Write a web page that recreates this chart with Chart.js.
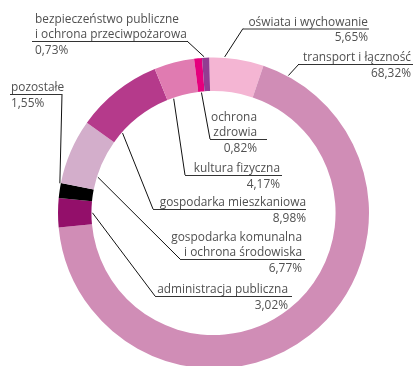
<!DOCTYPE html>
<html>
<head>
<meta charset="utf-8">
<script src="https://cdn.jsdelivr.net/npm/chart.js@4.4.1/dist/chart.umd.min.js"></script>
<style>
  html, body { margin: 0; padding: 0; background: #fff; overflow: hidden; }
  #wrap { width: 413px; height: 366px; overflow: hidden; }
</style>
</head>
<body>
<div id="wrap"><canvas id="wydatki" width="413" height="380"></canvas></div>
<script>
// struktura wydatków – udział poszczególnych działów (%)
const categories = [
    'oświata i wychowanie',
    'transport i łączność',
    'administracja publiczna',
    'pozostałe',
    'gospodarka komunalna i ochrona środowiska',
    'gospodarka mieszkaniowa',
    'kultura fizyczna',
    'ochrona zdrowia',
    'bezpieczeństwo publiczne i ochrona przeciwpożarowa',
];
const shares = [5.65, 68.32, 3.02, 1.55, 6.77, 8.98, 4.17, 0.82, 0.73];
const colors = ['#f4b5d3', '#d08db6', '#930f6a', '#000000', '#d3aecb', '#b53a8b', '#e07bb1', '#e5007d', '#913d92'];

// rozmieszczenie podpisów: linie tekstu, wyrównanie, podkreślenie, punkt na pierścieniu
const callouts = [
    { lines: ['oświata i wychowanie'], align: 'right', tx: 368, uy: 28.5, ux: [243, 369], ring: 'outer', at: 0.28 },
    { lines: ['transport i łączność'], align: 'right', tx: 411, uy: 64, ux: [299, 413], ring: 'outer', at: 0.04 },
    { lines: ['administracja publiczna'], align: 'right', tx: 288, uy: 296, ux: [155, 292], ring: 'inner', at: 0.5 },
    { lines: ['pozostałe'], align: 'left', tx: 11, uy: 94, ux: [10, 62], ring: 'outer', at: 0.97 },
    { lines: ['gospodarka komunalna', 'i ochrona środowiska'], align: 'right', tx: 302, uy: 259, ux: [180, 305], ring: 'inner', at: 0.25 },
    { lines: ['gospodarka mieszkaniowa'], align: 'right', tx: 306, uy: 209, ux: [153, 306], ring: 'inner', at: 0.18 },
    { lines: ['kultura fizyczna'], align: 'right', tx: 280, uy: 175, ux: [185, 282], ring: 'inner', at: 0.2 },
    { lines: ['ochrona', 'zdrowia'], align: 'right', tx: 257, uy: 139, ux: [210, 267], ring: 'inner', at: 0.5 },
    { lines: ['bezpieczeństwo publiczne', 'i ochrona przeciwpożarowa'], align: 'left', tx: 35, uy: 41, ux: [32, 187], ring: 'outer', at: 0.3 },
];

const pct = v => v.toFixed(2).replace('.', ',') + '%';

// tekst nieco zwężony, żeby zmieścił się nad podkreśleniem
function squeezed(ctx, t, x, y) {
    ctx.fillText(t, x, y, ctx.measureText(t).width * 0.95);
}

const calloutPlugin = {
    id: 'callouts',
    afterDraw(chart) {
        const ctx = chart.ctx;
        const meta = chart.getDatasetMeta(0);
        ctx.save();
        ctx.font = '12.5px "Open Sans", sans-serif';
        ctx.textBaseline = 'alphabetic';
        meta.data.forEach((arc, i) => {
            const c = callouts[i];
            const p = arc.getProps(['x', 'y', 'startAngle', 'endAngle', 'innerRadius', 'outerRadius'], true);
            const a = p.startAngle + (p.endAngle - p.startAngle) * c.at;
            const r = c.ring === 'outer' ? p.outerRadius + 1 : p.innerRadius - 1;
            const px = p.x + Math.cos(a) * r;
            const py = p.y + Math.sin(a) * r;
            const sx = c.align === 'right' ? c.ux[0] : c.ux[1];

            // linia odniesienia
            ctx.strokeStyle = '#111';
            ctx.lineWidth = 1;
            ctx.beginPath();
            ctx.moveTo(sx, c.uy);
            ctx.lineTo(px, py);
            ctx.stroke();

            // podkreślenie
            ctx.strokeStyle = '#333';
            ctx.beginPath();
            ctx.moveTo(c.ux[0], c.uy + 0.5);
            ctx.lineTo(c.ux[1], c.uy + 0.5);
            ctx.stroke();

            ctx.fillStyle = '#505050';
            ctx.textAlign = c.align;
            const n = c.lines.length;
            c.lines.forEach((t, j) => {
                squeezed(ctx, t, c.tx, c.uy - 3 - (n - 1 - j) * 15);
            });
            squeezed(ctx, pct(shares[i]), c.tx, c.uy + 12.5);
        });
        ctx.restore();
    },
};

new Chart(document.getElementById('wydatki'), {
    type: 'doughnut',
    data: {
        labels: categories,
        datasets: [
            {
                data: shares,
                backgroundColor: colors,
                borderWidth: 0,
            },
        ],
    },
    options: {
        responsive: false,
        animation: false,
        rotation: -1.6,
        cutout: '78.5%',
        layout: {
            padding: { left: 58, right: 44, top: 57.5, bottom: 11.5 },
        },
        plugins: {
            legend: { display: false },
            tooltip: { enabled: false },
        },
    },
    plugins: [calloutPlugin],
});
</script>
</body>
</html>
